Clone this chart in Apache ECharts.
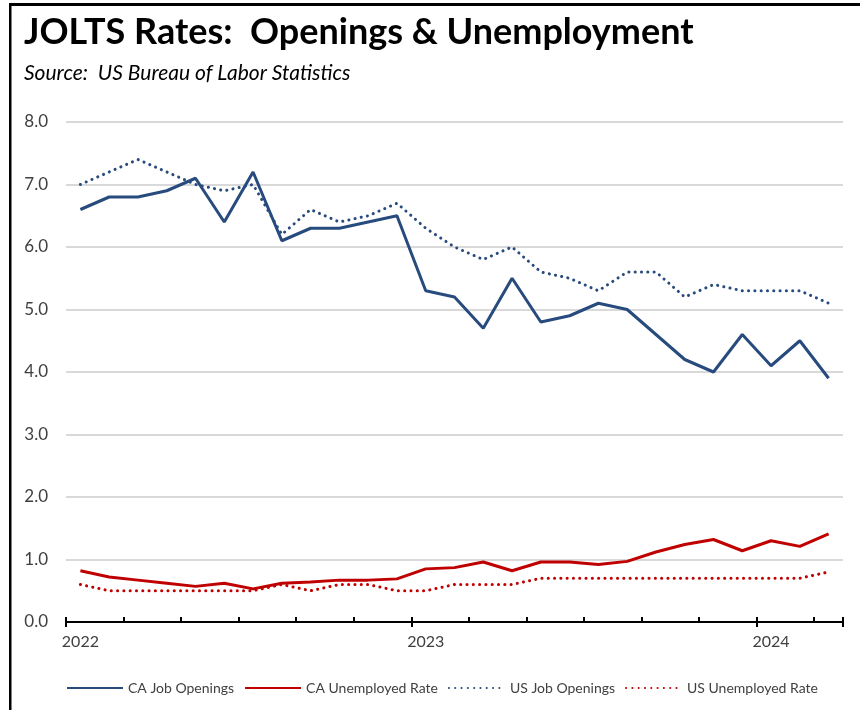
<!DOCTYPE html>
<html>
<head>
<meta charset="utf-8">
<script src="https://cdn.jsdelivr.net/npm/echarts@6/dist/echarts.min.js"></script>
<style>
  html, body { margin: 0; padding: 0; background: #fff; }
  #chart { width: 860px; height: 710px; }
</style>
</head>
<body>
<div id="chart"></div>
<script>
// Monthly JOLTS rates, Jan 2022 – Mar 2024
const months = [
  '2022-01','2022-02','2022-03','2022-04','2022-05','2022-06','2022-07','2022-08','2022-09','2022-10','2022-11','2022-12',
  '2023-01','2023-02','2023-03','2023-04','2023-05','2023-06','2023-07','2023-08','2023-09','2023-10','2023-11','2023-12',
  '2024-01','2024-02','2024-03'
];
const caJobOpenings = [6.6,6.8,6.8,6.9,7.1,6.4,7.2,6.1,6.3,6.3,6.4,6.5,5.3,5.2,4.7,5.5,4.8,4.9,5.1,5.0,4.6,4.2,4.0,4.6,4.1,4.5,3.9];
const caUnemployedRate = [0.82,0.72,0.67,0.62,0.57,0.62,0.53,0.62,0.64,0.67,0.67,0.69,0.85,0.87,0.96,0.82,0.96,0.96,0.92,0.97,1.12,1.24,1.32,1.14,1.30,1.21,1.41];
const usJobOpenings = [7.0,7.2,7.4,7.2,7.0,6.9,7.0,6.2,6.6,6.4,6.5,6.7,6.3,6.0,5.8,6.0,5.6,5.5,5.3,5.6,5.6,5.2,5.4,5.3,5.3,5.3,5.1];
const usUnemployedRate = [0.6,0.5,0.5,0.5,0.5,0.5,0.5,0.6,0.5,0.6,0.6,0.5,0.5,0.6,0.6,0.6,0.7,0.7,0.7,0.7,0.7,0.7,0.7,0.7,0.7,0.7,0.8];
const yTicks = { min: 0, max: 8, interval: 1 };

const BLUE = '#284B7E';
const RED = '#C00000';
const FONT = 'Lato, "Open Sans", sans-serif';
const dots = [0.1, 6.2];

const chart = echarts.init(document.getElementById('chart'), null, { renderer: 'canvas' });

chart.setOption({
  backgroundColor: '#fff',
  animation: false,
  title: [
    {
      text: 'JOLTS Rates:  Openings & Unemployment',
      left: 19, top: 9,
      textStyle: { fontFamily: FONT, fontWeight: 'bold', fontSize: 36, color: '#000' }
    },
    {
      text: 'Source:  US Bureau of Labor Statistics',
      left: 19, top: 58,
      textStyle: { fontFamily: FONT, fontStyle: 'italic', fontWeight: 'normal', fontSize: 21, color: '#000' }
    }
  ],
  graphic: [
    { type: 'rect', shape: { x: 9, y: 3, width: 851, height: 3 }, style: { fill: '#000' } },
    { type: 'rect', shape: { x: 9, y: 3, width: 2.5, height: 707 }, style: { fill: '#000' } }
  ],
  legend: {
    left: 61, top: 676,
    itemWidth: 56, itemHeight: 12, itemGap: 10,
    itemStyle: { opacity: 0 },
    textStyle: { fontFamily: FONT, fontSize: 14, color: '#404040' },
    data: ['CA Job Openings', 'CA Unemployed Rate', 'US Job Openings', 'US Unemployed Rate']
  },
  grid: { left: 66, right: 17, top: 122, bottom: 88 },
  xAxis: [
    {
      type: 'category', data: months, boundaryGap: true, position: 'bottom',
      axisLine: { lineStyle: { color: '#000', width: 2 } },
      axisTick: { show: true, length: 5, lineStyle: { color: '#000', width: 2 } },
      axisLabel: {
        interval: 11, margin: 12,
        fontFamily: FONT, fontSize: 16, color: '#404040',
        formatter: v => v.slice(0, 4)
      }
    },
    {
      type: 'category', data: months, boundaryGap: true, position: 'bottom', offset: 0,
      axisLine: { show: false },
      axisTick: { show: true, inside: true, length: 5, lineStyle: { color: '#000', width: 2 } },
      axisLabel: { show: false }
    }
  ],
  yAxis: {
    type: 'value', min: yTicks.min, max: yTicks.max, interval: yTicks.interval,
    axisLine: { show: false }, axisTick: { show: false },
    axisLabel: {
      margin: 18, fontFamily: FONT, fontSize: 17, color: '#404040',
      formatter: v => v.toFixed(1)
    },
    splitLine: { lineStyle: { color: '#D9D9D9', width: 2 } }
  },
  series: [
    {
      name: 'US Job Openings', type: 'line', data: usJobOpenings, symbol: 'none', z: 2,
      lineStyle: { color: BLUE, width: 3, type: dots, cap: 'round' }, itemStyle: { color: BLUE }
    },
    {
      name: 'US Unemployed Rate', type: 'line', data: usUnemployedRate, symbol: 'none', z: 2,
      lineStyle: { color: RED, width: 3, type: dots, cap: 'round' }, itemStyle: { color: RED }
    },
    {
      name: 'CA Job Openings', type: 'line', data: caJobOpenings, symbol: 'none', z: 3,
      lineStyle: { color: BLUE, width: 3 }, itemStyle: { color: BLUE }
    },
    {
      name: 'CA Unemployed Rate', type: 'line', data: caUnemployedRate, symbol: 'none', z: 3,
      lineStyle: { color: RED, width: 3 }, itemStyle: { color: RED }
    }
  ]
});
</script>
</body>
</html>
